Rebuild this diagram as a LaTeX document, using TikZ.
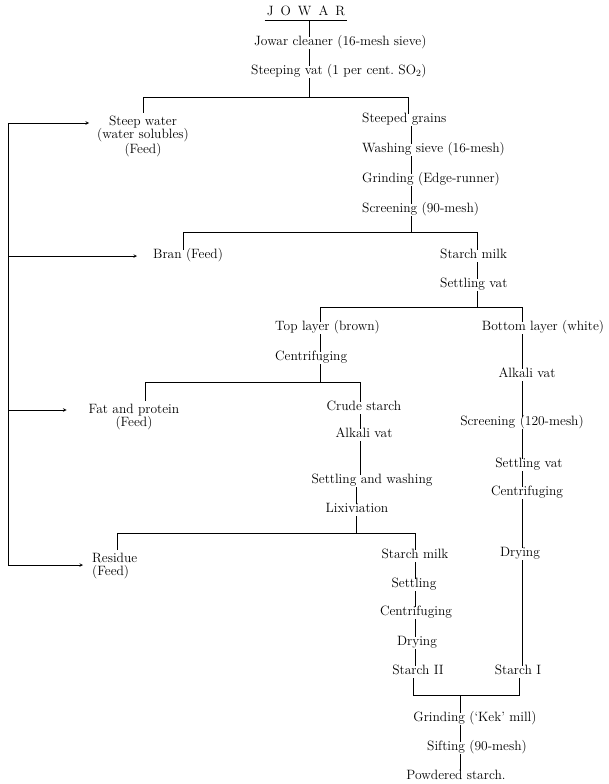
\documentclass[tikz,border=0pt]{standalone}
\usetikzlibrary{arrows, positioning}

\begin{document}
\begin{tikzpicture}[x=1pt, y=-1pt, stage/.style={
        inner xsep=2pt,
        inner ysep=2.5pt,
        font=\fontsize{13.5}{13.5}\selectfont,
        text height=1.5ex,
        text depth=.25ex
    }, lcol/.style={
        stage,
        anchor=west
    }, note/.style={
        inner xsep=2pt,
        inner ysep=2.5pt,
        font=\fontsize{13.5}{13.5}\selectfont
    }, flow/.style={
        line width=0.6pt
    }, feed/.style={
        line width=0.6pt, ->, >=stealth
    }]
    \useasboundingbox (0,0) rectangle (608,784);

    % main stream
    \node (jowar) [stage, inner ysep=3.5pt] at (306,13) {J\hspace{7pt}O\hspace{7pt}W\hspace{7pt}A\hspace{7pt}R};
    \node (cleaner) [lcol] at (252,43) {Jowar cleaner (16-mesh sieve)};
    \node (steepvat) [lcol] at (249,72) {Steeping vat (1 per cent.\ SO\textsubscript{2})};
    \node (steepwater) [note, align=center] at (143,136) {Steep water\\(water solubles)\\(Feed)};
    \node (grains) [lcol] at (360,120) {Steeped grains};
    \node (washing) [lcol] at (360,150) {Washing sieve (16-mesh)};
    \node (grinding) [lcol] at (360,180) {Grinding (Edge-runner)};
    \node (screening) [lcol] at (360,210) {Screening (90-mesh)};
    \node (bran) [lcol] at (151,256) {Bran (Feed)};
    \node (milk) [lcol] at (438,256) {Starch milk};
    \node (settlingvat) [lcol] at (438,285) {Settling vat};

    % top layer
    \node (toplayer) [lcol] at (273,328) {Top layer (brown)};
    \node (centri) [lcol] at (273,358) {Centrifuging};
    \node (fat) [note, align=center] at (134,417) {Fat and protein\\(Feed)};
    \node (crude) [stage] at (364,408) {Crude starch};
    \node (alkali) [stage] at (364,435) {Alkali vat};
    \node (washtwo) [stage] at (372,481) {Settling and washing};
    \node (lixiv) [stage] at (357,510) {Lixiviation};
    \node (residue) [note, align=left, anchor=west] at (90,566) {Residue\\(Feed)};
    \node (milktwo) [stage] at (415,556) {Starch milk};
    \node (settling) [stage] at (414,585) {Settling};
    \node (centritwo) [stage] at (416,613) {Centrifuging};
    \node (drying) [stage] at (417,643) {Drying};
    \node (starchii) [stage] at (418,672) {Starch II};

    % bottom layer
    \node (botlayer) [stage] at (543,328) {Bottom layer (white)};
    \node (alkalib) [stage] at (527,375) {Alkali vat};
    \node (screenb) [stage] at (522,423) {Screening (120-mesh)};
    \node (settlingb) [stage] at (529,465) {Settling vat};
    \node (centrib) [stage] at (527,493) {Centrifuging};
    \node (dryingb) [stage] at (520,554) {Drying};
    \node (starchi) [stage] at (518,672) {Starch I};

    % finishing
    \node (kek) [stage] at (475,719) {Grinding (`Kek' mill)};
    \node (sifting) [stage] at (477,748) {Sifting (90-mesh)};
    \node (powdered) [stage] at (456,777) {Powdered starch.};

    % junctions
    \coordinate (cA) at (309,97);
    \coordinate (barAl) at (143,97);
    \coordinate (barAr) at (408,97);
    \coordinate (cB) at (411,232);
    \coordinate (barBl) at (183,232);
    \coordinate (barBr) at (477,232);
    \coordinate (cC) at (477,307);
    \coordinate (barCl) at (320,307);
    \coordinate (barCr) at (522,307);
    \coordinate (cD) at (320,382);
    \coordinate (barDl) at (145,382);
    \coordinate (barDr) at (360,382);
    \coordinate (cE) at (356,533);
    \coordinate (barEl) at (117,533);
    \coordinate (barEr) at (415,533);
    \coordinate (barFl) at (413,695);
    \coordinate (barFr) at (519,695);
    \coordinate (cF) at (460,695);
    \coordinate (rail1) at (8,123);
    \coordinate (rail2) at (8,256);
    \coordinate (rail3) at (8,410);
    \coordinate (rail4) at (8,565);

    \draw [line width=1pt] (jowar.south west) -- (jowar.south east);
    \draw [flow] (jowar.south -| cA) -- (cleaner.north -| cA);
    \draw [flow] (cleaner.south -| cA) -- (steepvat.north -| cA);
    \draw [flow] (steepvat.south -| cA) -- (cA);
    \draw [flow] (steepwater.north -| barAl) -- (barAl) -- (barAr) -- (grains.north -| barAr);
    \draw [flow] (grains.south -| cB) -- (washing.north -| cB);
    \draw [flow] (washing.south -| cB) -- (grinding.north -| cB);
    \draw [flow] (grinding.south -| cB) -- (screening.north -| cB);
    \draw [flow] (screening.south -| cB) -- (cB);
    \draw [flow] (bran.north -| barBl) -- (barBl) -- (barBr) -- (milk.north -| barBr);
    \draw [flow] (milk.south -| cC) -- (settlingvat.north -| cC);
    \draw [flow] (settlingvat.south -| cC) -- (cC);
    \draw [flow] (toplayer.north -| barCl) -- (barCl) -- (barCr) -- (botlayer.north -| barCr);
    \draw [flow] (toplayer.south -| cD) -- (centri.north -| cD);
    \draw [flow] (centri.south -| cD) -- (cD);
    \draw [flow] (fat.north -| barDl) -- (barDl) -- (barDr) -- (crude.north -| barDr);
    \draw [flow] (crude.south -| barDr) -- (alkali.north -| barDr);
    \draw [flow] (alkali.south -| barDr) -- (washtwo.north -| barDr);
    \draw [flow] (washtwo.south -| cE) -- (lixiv.north -| cE);
    \draw [flow] (lixiv.south -| cE) -- (cE);
    \draw [flow] (residue.north -| barEl) -- (barEl) -- (barEr) -- (milktwo.north -| barEr);
    \draw [flow] (milktwo.south -| barEr) -- (settling.north -| barEr);
    \draw [flow] (settling.south -| barEr) -- (centritwo.north -| barEr);
    \draw [flow] (centritwo.south -| barEr) -- (drying.north -| barEr);
    \draw [flow] (drying.south -| barEr) -- (starchii.north -| barEr);
    \draw [flow] (botlayer.south -| barCr) -- (alkalib.north -| barCr);
    \draw [flow] (alkalib.south -| barCr) -- (screenb.north -| barCr);
    \draw [flow] (screenb.south -| barCr) -- (settlingb.north -| barCr);
    \draw [flow] (settlingb.south -| barCr) -- (centrib.north -| barCr);
    \draw [flow] (centrib.south -| barCr) -- (dryingb.north -| barCr);
    \draw [flow] (dryingb.south -| barCr) -- (starchi.north -| barCr);
    \draw [flow] (starchii.south -| barFl) -- (barFl) -- (barFr) -- (starchi.south -| barFr);
    \draw [flow] (cF) -- (kek.north -| cF);
    \draw [flow] (kek.south -| cF) -- (sifting.north -| cF);
    \draw [flow] (sifting.south -| cF) -- (powdered.north -| cF);

    % feed return
    \draw [flow] (rail1) -- (rail4);
    \draw [feed, shorten >=6pt] (rail1) -- (steepwater.west |- rail1);
    \draw [feed, shorten >=14pt] (rail2) -- (bran.west |- rail2);
    \draw [feed, shorten >=20pt] (rail3) -- (fat.west |- rail3);
    \draw [feed, shorten >=7pt] (rail4) -- (residue.west |- rail4);

\end{tikzpicture}
\end{document}
